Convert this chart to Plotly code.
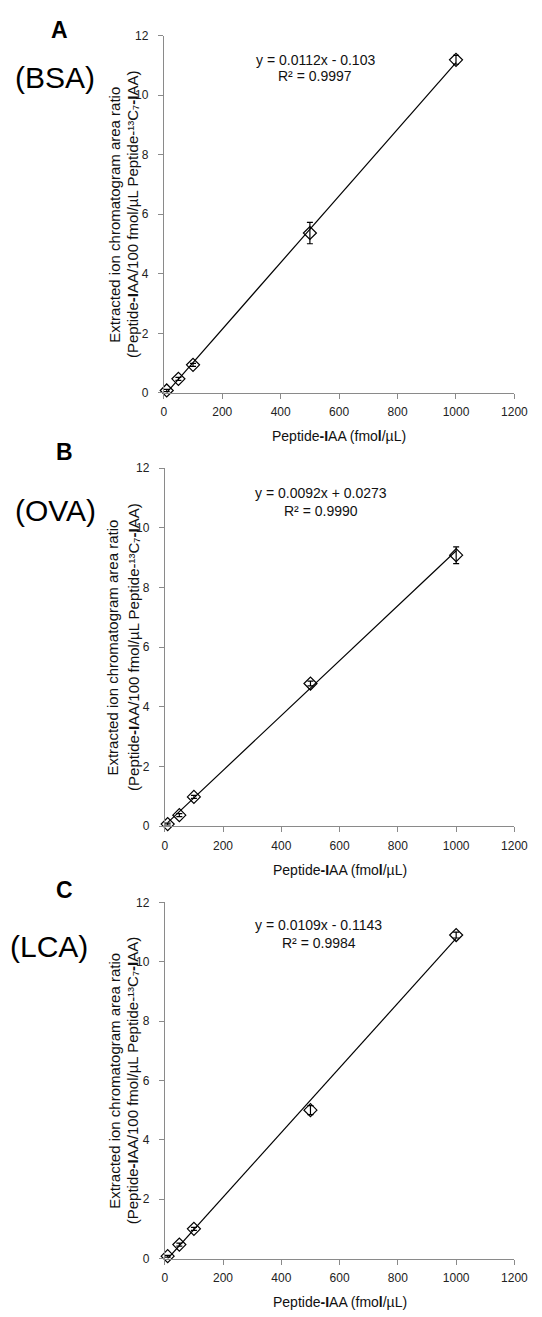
import plotly.graph_objects as go

# ---- data ----
conc = [10, 50, 100, 500, 1000]
bsa_ratio = [0.08, 0.47, 0.94, 5.37, 11.19]
bsa_err = [0.04, 0.05, 0.05, 0.36, 0.15]
ova_ratio = [0.07, 0.37, 0.98, 4.78, 9.08]
ova_err = [0.03, 0.05, 0.05, 0.08, 0.28]
lca_ratio = [0.08, 0.47, 1.00, 5.00, 10.90]
lca_err = [0.03, 0.05, 0.05, 0.15, 0.10]

slopes = [0.0112, 0.0092, 0.0109]
intercepts = [-0.103, 0.0273, -0.1143]
eq_lines = ["y = 0.0112x - 0.103", "y = 0.0092x + 0.0273", "y = 0.0109x - 0.1143"]
r2_lines = ["R² = 0.9997", "R² = 0.9990", "R² = 0.9984"]
panel_letters = ["A", "B", "C"]
panel_names = ["(BSA)", "(OVA)", "(LCA)"]
x_ticks = [0, 200, 400, 600, 800, 1000, 1200]
y_ticks = [0, 2, 4, 6, 8, 10, 12]


def bold(s, size):
    return '<span style="font-weight:bold;font-size:%dpx">%s</span>' % (size, s)


XT_SIZE = 14
YT_SIZE = 15
x_title = "Peptide" + bold("-I", XT_SIZE) + "AA (fmo" + bold("l", XT_SIZE) + "/µL)"
y_title1 = "Extracted ion chromatogram area ratio"
y_title2 = ("(Peptide" + bold("-I", YT_SIZE) + "AA/100 fmol/µL Peptide-¹³C₇"
            + bold("-I", YT_SIZE) + "AA)")

W, H = 542, 1317
FONT = "Liberation Sans, Arial, sans-serif"

# panel pixel boxes (left, right, top, bottom)
boxes = [(166, 528, 29, 390), (167, 528, 466, 828), (167, 528, 905, 1265)]
# equation positions in data units (x, y of line 1, y of line 2)
eq_pos = [(519, 11.20, 10.64), (535, 11.15, 10.57), (528, 11.23, 10.63)]
letter_pos = [(58, 23, 54, 71), (63, 450, 54, 509), (63, 892, 48, 950)]
ytitle_x = [(115, 133), (113, 134), (115, 134)]

series = [(bsa_ratio, bsa_err), (ova_ratio, ova_err), (lca_ratio, lca_err)]

fig = go.Figure()
annotations = []
layout = {}
for i, ((vals, errs), (l, r, t, b)) in enumerate(zip(series, boxes)):
    n = "" if i == 0 else str(i + 1)
    xa, ya = "x" + n, "y" + n
    x0, x1 = min(conc), max(conc)
    fig.add_trace(go.Scatter(
        x=[x0, x1], y=[slopes[i] * x0 + intercepts[i], slopes[i] * x1 + intercepts[i]],
        mode="lines", line=dict(color="black", width=1.2),
        xaxis=xa, yaxis=ya, showlegend=False, hoverinfo="skip"))
    fig.add_trace(go.Scatter(
        x=conc, y=vals, mode="markers",
        marker=dict(symbol="diamond-open", size=10, color="black", line=dict(width=1.2)),
        error_y=dict(type="data", array=errs, color="black", thickness=1.2, width=3),
        xaxis=xa, yaxis=ya, showlegend=False, cliponaxis=False))
    common = dict(showgrid=False, zeroline=False, showline=True,
                  linecolor="#8a8a8a", linewidth=1, ticks="outside", ticklen=5,
                  tickcolor="#8a8a8a", tickfont=dict(size=12, color="#222", family=FONT))
    layout["xaxis" + n] = dict(domain=[l / W, r / W], range=[0, 1200], tickvals=x_ticks,
                               anchor=ya, ticklabelstandoff=3, **common)
    layout["yaxis" + n] = dict(domain=[1 - b / H, 1 - t / H], range=[0, 12], tickvals=y_ticks,
                               anchor=xa, ticklabelstandoff=7, **common)
    ex, ey1, ey2 = eq_pos[i]
    for txt, yy in ((eq_lines[i], ey1), (r2_lines[i], ey2)):
        annotations.append(dict(
            x=ex, y=yy, xref=xa, yref=ya, text=txt, showarrow=False,
            font=dict(size=14, color="#111", family=FONT),
            xanchor="center", yanchor="middle"))
    # x title
    annotations.append(dict(
        x=(l + r) / 2 / W, y=1 - (b + 44) / H, xref="paper", yref="paper",
        text=x_title, showarrow=False,
        font=dict(size=XT_SIZE, color="#111", family=FONT),
        xanchor="center", yanchor="middle"))
    # y title (two lines)
    for txt, px in ((y_title1, ytitle_x[i][0]), (y_title2, ytitle_x[i][1])):
        annotations.append(dict(
            x=px / W, y=1 - ((t + b) / 2) / H, xref="paper", yref="paper",
            text=txt, textangle=-90, showarrow=False,
            font=dict(size=YT_SIZE, color="#111", family=FONT),
            xanchor="center", yanchor="middle"))
    # panel letters
    lx, ly, nx, ny = letter_pos[i]
    annotations.append(dict(
        x=lx / W, y=1 - ly / H, xref="paper", yref="paper",
        text="<b>" + panel_letters[i] + "</b>", showarrow=False,
        font=dict(size=23, color="black", family=FONT),
        xanchor="center", yanchor="middle"))
    annotations.append(dict(
        x=nx / W, y=1 - ny / H, xref="paper", yref="paper",
        text=panel_names[i], showarrow=False,
        font=dict(size=30, color="black", family=FONT),
        xanchor="center", yanchor="middle"))

fig.update_layout(
    width=W, height=H, margin=dict(l=0, r=0, t=0, b=0),
    paper_bgcolor="white", plot_bgcolor="white",
    annotations=annotations, **layout)

fig.write_html("out.html", config={"displayModeBar": False},
               post_script="document.body.style.margin='0';")
